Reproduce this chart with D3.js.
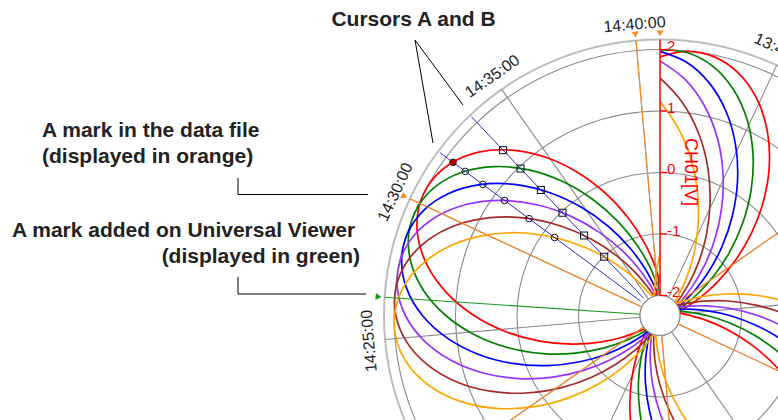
<!DOCTYPE html>
<html><head><meta charset="utf-8">
<script src="https://cdn.jsdelivr.net/npm/d3@7"></script>
<style>body{margin:0;background:#fff}svg{display:block}</style>
</head><body><svg id="c" width="778" height="420"></svg>
<script>
// ---- data ----
const startTime = "13:40:50";   // start of the one-hour angular range
const stepSeconds = 60;         // sampling step of the series
const ch1Red = [1.881,1.992,1.970,1.815,1.538,1.158,0.700,0.195,-0.324,-0.820,-1.262,-1.618,-1.866,-1.988,-1.977,-1.833,-1.566,-1.193,-0.740,-0.238,0.281,0.781,1.228,1.592,1.850,1.983,1.983,1.850,1.592,1.228,0.781,0.281,-0.238,-0.740,-1.193,-1.566,-1.833,-1.977,-1.988,-1.866,-1.618,-1.262,-0.820,-0.324,0.195,0.700,1.158,1.538,1.815,1.970,1.992,1.881,1.643,1.294,0.860,0.366,-0.151,-0.659,-1.123,-1.510,-1.796];
const ch2Green = [1.992,1.970,1.815,1.538,1.158,0.700,0.195,-0.324,-0.820,-1.262,-1.618,-1.866,-1.988,-1.977,-1.833,-1.566,-1.193,-0.740,-0.238,0.281,0.781,1.228,1.592,1.850,1.983,1.983,1.850,1.592,1.228,0.781,0.281,-0.238,-0.740,-1.193,-1.566,-1.833,-1.977,-1.988,-1.866,-1.618,-1.262,-0.820,-0.324,0.195,0.700,1.158,1.538,1.815,1.970,1.992,1.881,1.643,1.294,0.860,0.366,-0.151,-0.659,-1.123,-1.510,-1.796,-1.962];
const ch3Blue = [1.970,1.815,1.538,1.158,0.700,0.195,-0.324,-0.820,-1.262,-1.618,-1.866,-1.988,-1.977,-1.833,-1.566,-1.193,-0.740,-0.238,0.281,0.781,1.228,1.592,1.850,1.983,1.983,1.850,1.592,1.228,0.781,0.281,-0.238,-0.740,-1.193,-1.566,-1.833,-1.977,-1.988,-1.866,-1.618,-1.262,-0.820,-0.324,0.195,0.700,1.158,1.538,1.815,1.970,1.992,1.881,1.643,1.294,0.860,0.366,-0.151,-0.659,-1.123,-1.510,-1.796,-1.962,-1.996];
const ch4Purple = [1.815,1.538,1.158,0.700,0.195,-0.324,-0.820,-1.262,-1.618,-1.866,-1.988,-1.977,-1.833,-1.566,-1.193,-0.740,-0.238,0.281,0.781,1.228,1.592,1.850,1.983,1.983,1.850,1.592,1.228,0.781,0.281,-0.238,-0.740,-1.193,-1.566,-1.833,-1.977,-1.988,-1.866,-1.618,-1.262,-0.820,-0.324,0.195,0.700,1.158,1.538,1.815,1.970,1.992,1.881,1.643,1.294,0.860,0.366,-0.151,-0.659,-1.123,-1.510,-1.796,-1.962,-1.996,-1.895];
const ch5Brown = [1.538,1.158,0.700,0.195,-0.324,-0.820,-1.262,-1.618,-1.866,-1.988,-1.977,-1.833,-1.566,-1.193,-0.740,-0.238,0.281,0.781,1.228,1.592,1.850,1.983,1.983,1.850,1.592,1.228,0.781,0.281,-0.238,-0.740,-1.193,-1.566,-1.833,-1.977,-1.988,-1.866,-1.618,-1.262,-0.820,-0.324,0.195,0.700,1.158,1.538,1.815,1.970,1.992,1.881,1.643,1.294,0.860,0.366,-0.151,-0.659,-1.123,-1.510,-1.796,-1.962,-1.996,-1.895,-1.667];
const ch6Orange = [1.158,0.700,0.195,-0.324,-0.820,-1.262,-1.618,-1.866,-1.988,-1.977,-1.833,-1.566,-1.193,-0.740,-0.238,0.281,0.781,1.228,1.592,1.850,1.983,1.983,1.850,1.592,1.228,0.781,0.281,-0.238,-0.740,-1.193,-1.566,-1.833,-1.977,-1.988,-1.866,-1.618,-1.262,-0.820,-0.324,0.195,0.700,1.158,1.538,1.815,1.970,1.992,1.881,1.643,1.294,0.860,0.366,-0.151,-0.659,-1.123,-1.510,-1.796,-1.962,-1.996,-1.895,-1.667,-1.328];
const seriesColors = ["#ff0000","#008000","#0000ff","#9933ff","#a52a2a","#ffa500"];
const timeTicks = ["13:45:00","13:50:00","13:55:00","14:00:00","14:05:00","14:10:00","14:15:00","14:20:00","14:25:00","14:30:00","14:35:00","14:40:00"];
const timeTickLabels = ["13:45:00","14:25:00","14:30:00","14:35:00","14:40:00"]; // labels that fall in the view
const radialTicks = [-2,-1,0,1,2];
const radialTickLabels = ["-2","-1","0","1","2"];
const orangeMarks = ["13:40:50","13:50:00","14:00:00","14:10:00","14:20:00","14:30:00","14:40:00"];
const greenMarks = ["14:26:28"];
const cursorTimes = ["14:31:55","14:33:35"]; // cursor A, cursor B

// ---- scales ----
const sec = s => { const p = s.split(":").map(Number); return p[0]*3600 + p[1]*60 + p[2]; };
const t0 = sec(startTime);
const angle = d3.scaleLinear().domain([t0, t0 + 3600]).range([0, 2*Math.PI]);
const rad = d3.scaleLinear().domain([-2, 2]).range([20, 266]);
const cx = 660, cy = 315.5, rOuter = 276;
const deg = a => a*180/Math.PI;

const svg = d3.select("#c");
svg.append("rect").attr("width",778).attr("height",420).attr("fill","#fff");
const g = svg.append("g").attr("transform", `translate(${cx},${cy})`);

// grid circles
g.selectAll("circle.grid").data(radialTicks).join("circle").attr("class","grid")
  .attr("r", d => rad(d)).attr("fill","none").attr("stroke","#8a8a8a").attr("stroke-width",1.1);
g.append("circle").attr("r", rOuter).attr("fill","none").attr("stroke","#bdbdbd").attr("stroke-width",2);

// spokes
g.selectAll("line.spoke").data(timeTicks).join("line").attr("class","spoke")
  .attr("x1", d => rad(-2)*Math.sin(angle(sec(d)))).attr("y1", d => -rad(-2)*Math.cos(angle(sec(d))))
  .attr("x2", d => rOuter*Math.sin(angle(sec(d)))).attr("y2", d => -rOuter*Math.cos(angle(sec(d))))
  .attr("stroke","#8a8a8a").attr("stroke-width",1.1);

// series
const allSeries = [ch1Red, ch2Green, ch3Blue, ch4Purple, ch5Brown, ch6Orange];
const line = d3.lineRadial()
  .angle((d,i) => angle(t0 + i*stepSeconds))
  .radius(d => rad(d))
  .curve(d3.curveCatmullRom.alpha(0.5));
allSeries.forEach((s, k) => {
  g.append("path").attr("d", line(s)).attr("fill","none")
   .attr("stroke", seriesColors[k]).attr("stroke-width",1.7).attr("stroke-linejoin","round");
});

// inner white circle
g.append("circle").attr("r", rad(-2)).attr("fill","#fff").attr("stroke","#8a8a8a").attr("stroke-width",1.1);

// mark lines
function drawMark(t, color) {
  const a = angle(sec(t));
  g.append("line").attr("x1", rad(-2)*Math.sin(a)).attr("y1", -rad(-2)*Math.cos(a))
   .attr("x2", rOuter*Math.sin(a)).attr("y2", -rOuter*Math.cos(a))
   .attr("stroke", color).attr("stroke-width",1.1);
  g.append("path").attr("d","M-3.5,-285L3.5,-285L0,-279Z").attr("fill", color)
   .attr("transform", `rotate(${deg(a)})`);
}
orangeMarks.forEach(t => drawMark(t, "#ff8a1f"));
greenMarks.forEach(t => drawMark(t, "#1e9a1e"));

// cursors
cursorTimes.forEach((c, ci) => {
  const a = angle(sec(c));
  g.append("line").attr("x1", 24*Math.sin(a)).attr("y1", -24*Math.cos(a))
   .attr("x2", 274*Math.sin(a)).attr("y2", -274*Math.cos(a))
   .attr("stroke","#2b2bc8").attr("stroke-width",1);
  const fi = (sec(c) - t0) / stepSeconds, i0 = Math.floor(fi), f = fi - i0;
  allSeries.forEach((s, k) => {
    const v = s[i0]*(1-f) + s[i0+1]*f;
    const R = rad(v), x = R*Math.sin(a), y = -R*Math.cos(a);
    if (ci === 0) {
      g.append("circle").attr("cx", x).attr("cy", y).attr("r", 3.3)
       .attr("fill", k === 0 ? "#c00000" : "none").attr("stroke","#111").attr("stroke-width",1);
    } else {
      g.append("rect").attr("x", x-3.5).attr("y", y-3.5).attr("width",7).attr("height",7)
       .attr("fill","none").attr("stroke","#111").attr("stroke-width",1);
    }
  });
});

// radial (red) axis
g.append("line").attr("x1",0).attr("y1",-rad(-2)).attr("x2",0).attr("y2",-rOuter)
 .attr("stroke","#ff0000").attr("stroke-width",1.3);
radialTicks.forEach((v, i) => {
  g.append("line").attr("x1",0).attr("x2",7).attr("y1",-rad(v)).attr("y2",-rad(v))
   .attr("stroke","#ff0000").attr("stroke-width",1.3);
  g.append("text").attr("x",7).attr("y",-rad(v)-2).attr("dominant-baseline","middle")
   .attr("font-family","Liberation Sans, Arial, sans-serif").attr("font-size",15)
   .attr("fill","#ff0000").text(radialTickLabels[i]);
});
g.append("text").attr("transform", `translate(30,${-143.5}) rotate(90)`)
 .attr("text-anchor","middle").attr("dominant-baseline","middle")
 .attr("font-family","Liberation Sans, Arial, sans-serif").attr("font-size",18)
 .attr("fill","#ff0000").text("CH01[V]");

// time labels
g.selectAll("text.tl").data(timeTickLabels).join("text").attr("class","tl")
  .attr("transform", d => `rotate(${deg(angle(sec(d)))}) translate(0,-287)`)
  .attr("text-anchor","middle")
  .attr("font-family","Liberation Sans, Arial, sans-serif").attr("font-size",16)
  .attr("fill","#222").text(d => d);

// annotations
const font = "Liberation Sans, Arial, sans-serif";
function txt(x, y, s, anchor) {
  svg.append("text").attr("x",x).attr("y",y).attr("text-anchor",anchor||"start")
   .attr("font-family",font).attr("font-weight","bold").attr("font-size",21)
   .attr("fill","#222").text(s);
}
txt(413.5, 26, "Cursors A and B", "middle");
txt(42, 137, "A mark in the data file");
txt(42, 162.5, "(displayed in orange)");
txt(12, 237, "A mark added on Universal Viewer");
txt(360, 263, "(displayed in green)", "end");
const ann = [
  [[463,105],[415,40],[433,143]],
  [[238,178],[238,194.5],[368,194.5]],
  [[238,277],[238,294],[366,294]]
];
ann.forEach(p => svg.append("path").attr("d", d3.line()(p)).attr("fill","none")
  .attr("stroke","#000").attr("stroke-width",1));
</script></body></html>
